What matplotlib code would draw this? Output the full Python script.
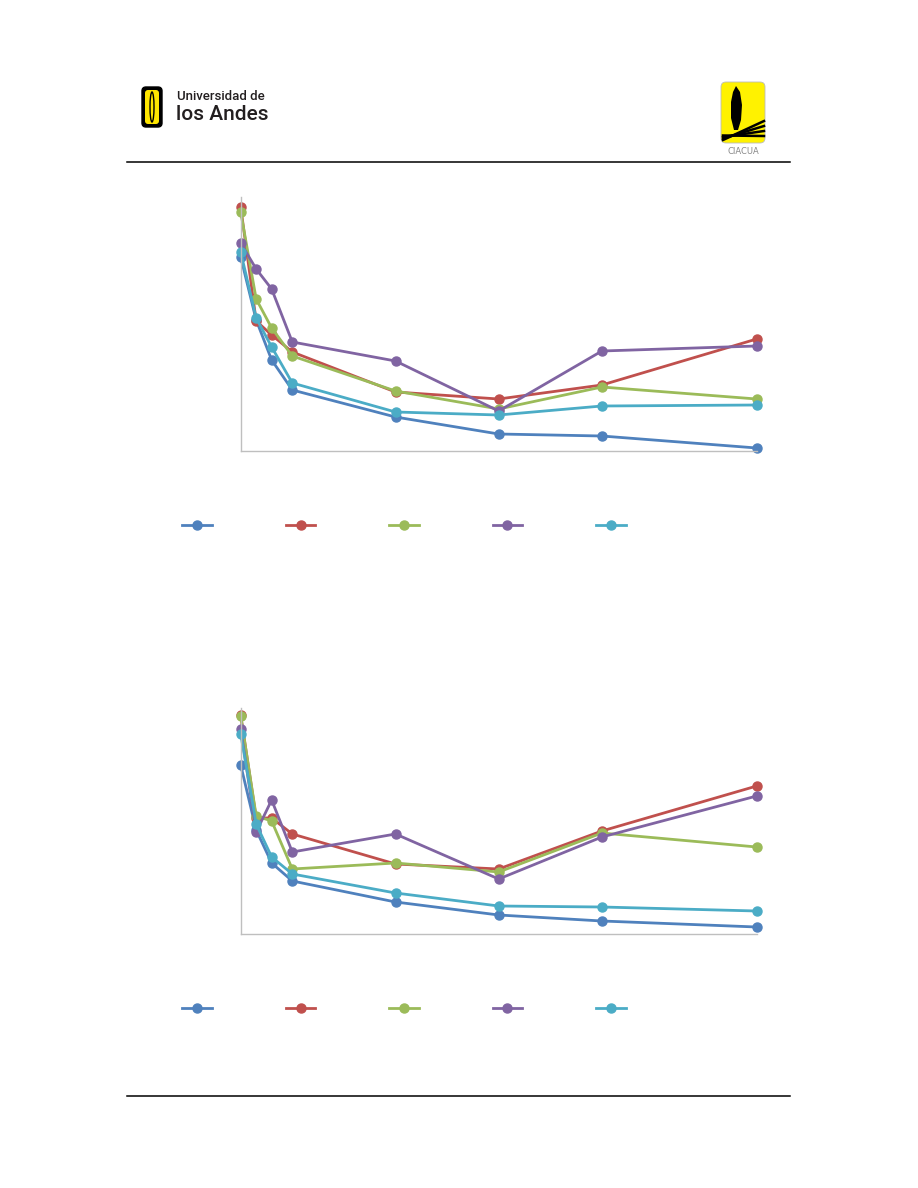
import matplotlib
matplotlib.use("Agg")
import matplotlib.pyplot as plt
from matplotlib.patches import FancyBboxPatch, Ellipse, Polygon
from matplotlib.lines import Line2D

# ── Data (no axis labels are shown) ───────────────────────────────────
x_vals = [0, 3, 6, 10, 30, 50, 70, 100]

# upper chart
top_blue   = [194, 131, 91, 61, 34, 17, 15, 3]
top_red    = [244, 130, 116, 99, 59, 52, 66, 112]
top_green  = [239, 152, 123, 95, 60, 42, 64, 52]
top_purple = [208, 182, 162, 109, 90, 40, 100, 105]
top_cyan   = [199, 133, 104, 68, 39, 36, 45, 46]

# lower chart
bot_blue   = [169, 104, 71, 53, 32, 19, 13, 7]
bot_red    = [219, 116, 116, 100, 70, 65, 103, 148]
bot_green  = [218, 118, 113, 65, 71, 62, 101, 87]
bot_purple = [205, 102, 134, 82, 100, 55, 97, 138]
bot_cyan   = [200, 110, 77, 60, 41, 28, 27, 23]

colors = ["#4F81BD", "#C0504D", "#9BBB59", "#8064A2", "#4BACC6"]

W, H = 918, 1188
fig = plt.figure(figsize=(W / 100, H / 100), dpi=100)


def px_axes(left, top, right, bottom):
    # axes placed with page pixel coordinates
    return fig.add_axes([left / W, 1 - bottom / H, (right - left) / W, (bottom - top) / H])


# ── Page decorations: header logos and rules ──────────────────────────
deco = fig.add_axes([0, 0, 1, 1], zorder=0)
deco.set_xlim(0, W)
deco.set_ylim(H, 0)
deco.axis("off")

# Uniandes shield
deco.add_patch(FancyBboxPatch((142, 87), 20, 40, boxstyle="round,pad=0,rounding_size=4",
                              facecolor="black", edgecolor="black"))
deco.add_patch(FancyBboxPatch((145, 90), 14, 34, boxstyle="round,pad=0,rounding_size=3",
                              facecolor="#FFE600", edgecolor="none"))
deco.add_patch(Ellipse((152, 107), 4, 30, facecolor="none", edgecolor="black", lw=1.0))
deco.text(177, 96, "Universidad de", fontsize=9.5, family="Roboto", fontweight="medium",
          va="center", ha="left", color="#231F20")
deco.text(176, 115, "los Andes", fontsize=15, family="Roboto", fontweight="medium",
          va="center", ha="left", color="#231F20")

# CIACUA logo
deco.add_patch(FancyBboxPatch((721, 82), 44, 61, boxstyle="round,pad=0,rounding_size=5",
                              facecolor="#FFF200", edgecolor="#BBBBBB", lw=0.6))
deco.add_patch(Polygon([(736, 86), (740, 92), (742, 105), (741, 120), (738, 130),
                        (734, 130), (731, 118), (731, 102), (733, 92)],
                       closed=True, facecolor="black", edgecolor="none"))
for dy in [0, 5, 10, 15]:
    deco.plot([723, 764], [140 - dy * 0.3, 121 + dy], color="black", lw=1.8)
deco.text(743, 151, "CIACUA", fontsize=6, color="#888888", ha="center", va="center")

# header and footer rules
deco.plot([127, 790], [161.5, 161.5], color="black", lw=1.1)
deco.plot([127, 790], [1096, 1096], color="black", lw=1.1)


def draw_chart(ax, series, ymax):
    for vals, c in zip(series, colors):
        ax.plot(x_vals, vals, color=c, lw=2.0, marker="o", markersize=6.5,
                clip_on=False)
    ax.set_xlim(0, 100)
    ax.set_ylim(0, ymax)
    ax.set_xticks([])
    ax.set_yticks([])
    for side in ["top", "right"]:
        ax.spines[side].set_visible(False)
    for side in ["left", "bottom"]:
        ax.spines[side].set_color("#BFBFBF")
        ax.spines[side].set_linewidth(1.0)
    ax.patch.set_alpha(0)


def draw_legend(y_px):
    handles = [Line2D([], [], color=c, lw=2.0, marker="o", markersize=6.5) for c in colors]
    fig.legend(handles, [""] * 5, ncol=5, frameon=False, fontsize=10,
               loc="center", bbox_to_anchor=(404 / W, 1 - y_px / H),
               handlelength=2.15, handletextpad=0.0, columnspacing=5.3)


ax1 = px_axes(240.7, 197, 756.7, 451)
draw_chart(ax1, [top_blue, top_red, top_green, top_purple, top_cyan], 254)
draw_legend(526)

ax2 = px_axes(240.7, 708, 756.7, 934)
draw_chart(ax2, [bot_blue, bot_red, bot_green, bot_purple, bot_cyan], 226)
draw_legend(1009)

plt.savefig("out.png", dpi=100)
